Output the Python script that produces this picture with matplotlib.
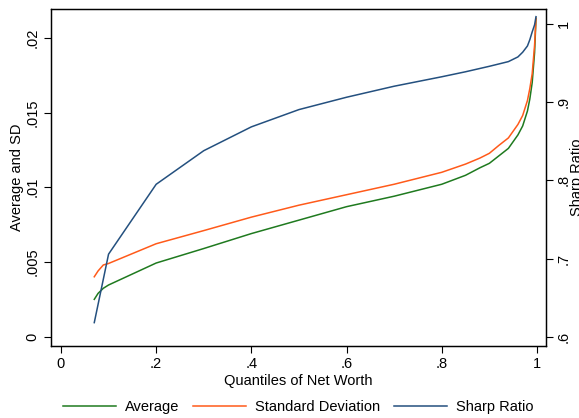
import numpy as np
import matplotlib
matplotlib.use("Agg")
import matplotlib.pyplot as plt
from matplotlib.ticker import FuncFormatter

plt.rcParams['font.family'] = ['Liberation Sans', 'DejaVu Sans']

# quantile grid for average / sd
q = [0.07, 0.078, 0.089, 0.1, 0.2, 0.3, 0.4, 0.5, 0.6, 0.7, 0.8, 0.85,
     0.88, 0.9, 0.92, 0.94, 0.96, 0.97, 0.98, 0.985, 0.99, 0.995, 0.998]
avg = [0.0025, 0.0029, 0.00324, 0.00346, 0.00493, 0.0059, 0.0069, 0.0078,
       0.0087, 0.0094, 0.0102, 0.0108, 0.0113, 0.0116, 0.0121, 0.0126,
       0.0135, 0.0141, 0.0151, 0.0159, 0.0170, 0.0190, 0.0213]
sd = [0.00401, 0.0044, 0.0048, 0.0049, 0.00622, 0.0071, 0.0080, 0.0088,
      0.0095, 0.0102, 0.0110, 0.01155, 0.01195, 0.01227, 0.0128, 0.0133,
      0.0142, 0.0148, 0.0158, 0.0166, 0.0176, 0.0195, 0.0213]

# sharpe ratio (right axis)
q_sr = [0.07, 0.1, 0.2, 0.3, 0.4, 0.5, 0.6, 0.7, 0.8, 0.85, 0.9, 0.92,
        0.94, 0.96, 0.97, 0.98, 0.985, 0.99, 0.995, 0.998]
sharpe = [0.618, 0.7056, 0.795, 0.838, 0.8685, 0.8906, 0.9064, 0.9205,
          0.9326, 0.939, 0.946, 0.949, 0.952, 0.958, 0.964, 0.972, 0.980,
          0.990, 0.999, 1.0095]

def fmt(v, pos):
    s = ('%g' % round(v, 4))
    if s.startswith('0.'):
        s = s[1:]
    return s

fig = plt.figure(figsize=(5.79, 4.18), dpi=100)
ax = fig.add_axes([0.088, 0.173, 0.855, 0.806])
ax2 = ax.twinx()

l1, = ax.plot(q, avg, color='#1f7a1f', lw=1.1, label='Average')
l2, = ax.plot(q, sd, color='#ff5a1a', lw=1.1, label='Standard Deviation')
l3, = ax2.plot(q_sr, sharpe, color='#24507f', lw=1.1, label='Sharp Ratio')

ax.set_xlim(-0.021, 1.019)
ax.set_ylim(-0.0006, 0.02194)
ax2.set_ylim(0.5885, 1.0196)

ax.set_xticks([0, 0.2, 0.4, 0.6, 0.8, 1.0])
ax.set_yticks([0, 0.005, 0.01, 0.015, 0.02])
ax2.set_yticks([0.6, 0.7, 0.8, 0.9, 1.0])
for a in (ax, ax2):
    a.xaxis.set_major_formatter(FuncFormatter(fmt))
    a.yaxis.set_major_formatter(FuncFormatter(fmt))
    a.tick_params(direction='out', length=5, width=0.8, labelsize=10.5, pad=3)

for lab in ax.get_yticklabels():
    lab.set_rotation(90)
    lab.set_va('center')
for lab in ax2.get_yticklabels():
    lab.set_rotation(90)
    lab.set_va('center')

ax.set_xlabel('Quantiles of Net Worth', fontsize=10.5, labelpad=2)
ax.set_ylabel('Average and SD', fontsize=10.5, labelpad=1)
ax2.set_ylabel('Sharp Ratio', fontsize=10.5, rotation=90, labelpad=-1)

for a in (ax, ax2):
    for sp in a.spines.values():
        sp.set_linewidth(0.9)

fig.legend(handles=[l1, l2, l3], loc='center', bbox_to_anchor=(0.515, 0.026),
           ncol=3, frameon=False, fontsize=10.5, handlelength=3.6,
           handletextpad=0.6, columnspacing=1.0)

fig.savefig('out.png', dpi=100)
